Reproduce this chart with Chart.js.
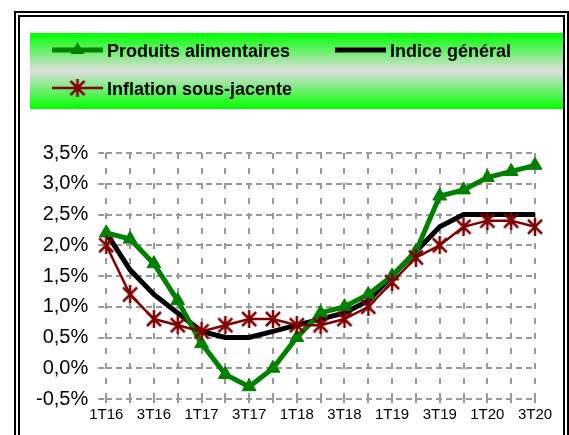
<!DOCTYPE html>
<html>
<head>
<meta charset="utf-8">
<script src="https://cdn.jsdelivr.net/npm/chart.js@4.4.1/dist/chart.umd.min.js"></script>
<style>
  html, body { margin: 0; padding: 0; background: #fff; }
  #wrap { width: 569px; height: 435px; }
</style>
</head>
<body>
<div id="wrap"><canvas id="myChart" width="569" height="435"></canvas></div>
<script>
// Quarters (only every other one is labelled on the axis)
const quarters = ['1T16', '2T16', '3T16', '4T16', '1T17', '2T17', '3T17', '4T17',
                  '1T18', '2T18', '3T18', '4T18', '1T19', '2T19', '3T19', '4T19',
                  '1T20', '2T20', '3T20'];
const shownTicks = ['1T16', '3T16', '1T17', '3T17', '1T18', '3T18', '1T19', '3T19', '1T20', '3T20'];

// Series values (%)
const produitsAlimentaires = [2.2, 2.1, 1.7, 1.1, 0.4, -0.1, -0.3, 0.0, 0.5, 0.9, 1.0, 1.2, 1.5, 1.9, 2.8, 2.9, 3.1, 3.2, 3.3];
const indiceGeneral = [2.2, 1.6, 1.2, 0.9, 0.6, 0.5, 0.5, 0.6, 0.7, 0.8, 0.9, 1.1, 1.5, 1.9, 2.3, 2.5, 2.5, 2.5, 2.5];
const inflationSousJacente = [2.0, 1.2, 0.8, 0.7, 0.6, 0.7, 0.8, 0.8, 0.7, 0.7, 0.8, 1.0, 1.4, 1.8, 2.0, 2.3, 2.4, 2.4, 2.3];

const GREEN = '#008000';
const DARKRED = '#800000';
const FONT = "'Liberation Sans', Arial, sans-serif";

// asterisk marker (X plus a vertical bar), like the spreadsheet "*" marker
function makeStar(size, color, lw) {
  const c = document.createElement('canvas');
  c.width = size; c.height = size;
  const g = c.getContext('2d');
  g.strokeStyle = color;
  g.lineWidth = lw;
  const a = 2, b = size - 2;
  g.beginPath();
  g.moveTo(size / 2, 0); g.lineTo(size / 2, size);
  g.moveTo(a, a); g.lineTo(b, b);
  g.moveTo(b, a); g.lineTo(a, b);
  g.stroke();
  return c;
}
const star = makeStar(18, DARKRED, 2.5);

// frame + gradient band behind the legend
const framePlugin = {
  id: 'frame',
  beforeDraw(chart) {
    const ctx = chart.ctx;
    ctx.save();
    ctx.fillStyle = '#fff';
    ctx.fillRect(0, 0, chart.width, chart.height);
    ctx.fillStyle = '#000';
    ctx.fillRect(14, 11, 555, 2);
    ctx.fillRect(14, 11, 2, 424);
    ctx.fillRect(567, 11, 2, 424);
    ctx.fillRect(18, 15, 547, 2);
    ctx.fillRect(18, 15, 2, 420);
    ctx.fillRect(563, 15, 2, 420);

    const grad = ctx.createLinearGradient(0, 33, 0, 109);
    grad.addColorStop(0, '#00ff00');
    grad.addColorStop(0.5, '#dedede');
    grad.addColorStop(1, '#00ff00');
    ctx.fillStyle = grad;
    ctx.fillRect(30, 33, 533, 76);
    ctx.restore();
  }
};

// legend drawn inside the band, with line samples and markers
const legendPlugin = {
  id: 'bandLegend',
  afterDraw(chart) {
    const ctx = chart.ctx;
    const spots = [[0, 52, 50], [1, 335, 50], [2, 52, 88]];
    ctx.save();
    spots.forEach(([i, x, y]) => {
      const ds = chart.data.datasets[i];
      ctx.strokeStyle = ds.borderColor;
      ctx.lineWidth = ds.borderWidth;
      ctx.beginPath();
      ctx.moveTo(x, y);
      ctx.lineTo(x + 51, y);
      ctx.stroke();
      const cx = x + 25.5;
      if (ds.pointStyle === 'triangle') {
        const r = ds.pointRadius;
        ctx.fillStyle = ds.pointBackgroundColor;
        ctx.beginPath();
        ctx.moveTo(cx, y - r);
        ctx.lineTo(cx + r * 0.866, y + r / 2);
        ctx.lineTo(cx - r * 0.866, y + r / 2);
        ctx.closePath();
        ctx.fill();
      } else if (ds.pointStyle instanceof HTMLCanvasElement) {
        ctx.drawImage(ds.pointStyle, cx - ds.pointStyle.width / 2, y - ds.pointStyle.height / 2);
      }
      ctx.fillStyle = '#000';
      ctx.font = 'bold 18px ' + FONT;
      ctx.textBaseline = 'alphabetic';
      ctx.fillText(ds.label, x + 55, y + 6.5);
    });
    ctx.restore();
  }
};

const ctx = document.getElementById('myChart').getContext('2d');
const myChart = new Chart(ctx, {
  type: 'line',
  data: {
    labels: quarters,
    datasets: [
      {
        label: 'Produits alimentaires',
        data: produitsAlimentaires,
        borderColor: GREEN,
        backgroundColor: GREEN,
        borderWidth: 5,
        pointStyle: 'triangle',
        pointRadius: 8,
        pointBackgroundColor: GREEN,
        pointBorderColor: GREEN,
        pointBorderWidth: 1,
        tension: 0,
        clip: false,
        order: 1
      },
      {
        label: 'Indice général',
        data: indiceGeneral,
        borderColor: '#000',
        backgroundColor: '#000',
        borderWidth: 5,
        pointRadius: 0,
        tension: 0,
        clip: false,
        order: 2
      },
      {
        label: 'Inflation sous-jacente',
        data: inflationSousJacente,
        borderColor: DARKRED,
        backgroundColor: DARKRED,
        borderWidth: 2.5,
        pointStyle: star,
        pointRadius: 9,
        tension: 0,
        clip: false,
        order: 0
      }
    ]
  },
  options: {
    responsive: false,
    animation: false,
    devicePixelRatio: 1,
    layout: { padding: { left: 26, right: 34, top: 153, bottom: 8 } },
    plugins: {
      legend: { display: false },
      tooltip: { enabled: false }
    },
    scales: {
      x: {
        offset: false,
        grid: {
          color: '#999',
          lineWidth: 2,
          tickLength: 4,
          tickBorderDash: [6, 9]
        },
        border: { display: false, dash: [6, 9] },
        ticks: {
          autoSkip: false,
          maxRotation: 0,
          minRotation: 0,
          padding: 3,
          color: '#000',
          font: { family: FONT, size: 15 },
          callback: function (value, index) {
            const q = quarters[index];
            return shownTicks.includes(q) ? q : '';
          }
        }
      },
      y: {
        min: -0.5,
        max: 3.5,
        grid: {
          color: '#999',
          lineWidth: 2,
          tickLength: 8,
          tickBorderDash: [6, 4]
        },
        border: { display: false, dash: [6, 4] },
        ticks: {
          stepSize: 0.5,
          padding: 10,
          color: '#000',
          font: { family: FONT, size: 20 },
          callback: v => v.toFixed(1).replace('.', ',') + '%'
        }
      }
    }
  },
  plugins: [framePlugin, legendPlugin]
});
</script>
</body>
</html>
